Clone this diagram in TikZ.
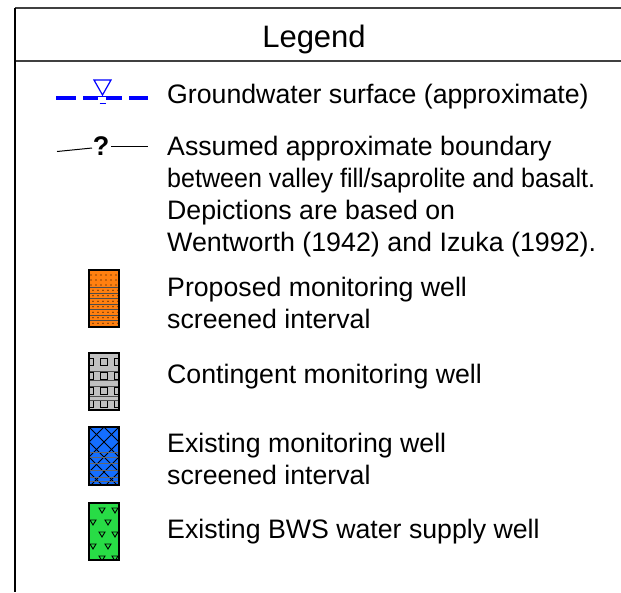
\documentclass[tikz,border=0pt]{standalone}
\usepackage{graphicx}
\usepackage{fontspec}
\setmainfont{Liberation Sans}
\definecolor{wellorange}{RGB}{255,128,16}
\definecolor{wellgray}{RGB}{192,192,192}
\definecolor{wellblue}{RGB}{20,110,255}
\definecolor{wellgreen}{RGB}{40,220,70}
\definecolor{gwblue}{RGB}{0,0,255}
\begin{document}
\begin{tikzpicture}[x=1pt,y=-1pt,
  frame/.style={line width=1.6pt},
  txt/.style={anchor=base west,inner sep=0pt,font=\fontsize{26.7}{32}\selectfont},
  title/.style={anchor=base,inner sep=0pt,font=\fontsize{31}{36}\selectfont},
  wellbox/.style={draw=black,line width=1.4pt},
  pat/.style={line width=0.7pt}]
\useasboundingbox (0,0) rectangle (621,592);
% frame
\coordinate (tl) at (15,8);
\coordinate (tr) at (621,8);
\coordinate (ml) at (15,61);
\coordinate (mr) at (621,61);
\coordinate (bl) at (15,592);
\draw[frame,black!75] (tl) -- (tr);
\draw[frame,black!75] (ml) -- (mr);
\draw[frame] (tl) -- (bl);
\node[title] (legend) at (314,47) {Legend};
% groundwater symbol
\coordinate (g1a) at (56,98); \coordinate (g1b) at (76,98);
\coordinate (g2a) at (83,98); \coordinate (g2b) at (122,98);
\coordinate (g3a) at (129,98); \coordinate (g3b) at (148,98);
\draw[gwblue,line width=4.5pt] (g1a) -- (g1b);
\draw[gwblue,line width=4.5pt] (g2a) -- (g2b);
\draw[gwblue,line width=4.5pt] (g3a) -- (g3b);
\fill[white] (98,96.5) rectangle (106,100);
\draw[gwblue,line width=1.2pt] (94,80) -- (111,80) -- (102.5,95) -- cycle;
\draw[gwblue,line width=1.2pt] (99.5,103.5) -- (105.5,103.5);
\node[txt] (t1) at (167,103) {Groundwater surface (approximate)};
% boundary symbol
\coordinate (b1a) at (57,151.5); \coordinate (b1b) at (92,148);
\coordinate (b2a) at (111,146); \coordinate (b2b) at (148,146);
\draw[line width=1pt] (b1a) -- (b1b);
\draw[line width=1pt] (b2a) -- (b2b);
\node[inner sep=0pt,font=\fontsize{27}{30}\selectfont\bfseries] (q) at (101,146) {?};
\node[txt] (t2a) at (167,155) {Assumed approximate boundary};
\node[txt] (t2b) at (167,187) {\resizebox{428pt}{\height}{between valley fill/saprolite and basalt.}};
\node[txt] (t2c) at (167,219) {Depictions are based on};
\node[txt] (t2d) at (167,251) {\resizebox{429pt}{\height}{Wentworth (1942) and Izuka (1992).}};
% orange well
\fill[wellorange] (89,270) rectangle (119,327);
\begin{scope}
\clip (89,270) rectangle (119,327);
\foreach \yy in {275,280,285} \foreach \xx in {91,96,...,119} \fill (\xx,\yy) circle (0.7pt);
\foreach \yy in {287.5,293,298.5,304,309.5,315,320.5} {
  \draw[pat,black!70] (89,\yy) -- (119,\yy);
  \foreach \xx in {93,98,...,119} \fill (\xx,\yy+2.7) circle (0.6pt);
}
\end{scope}
\draw[wellbox] (89,270) rectangle (119,327);
\node[txt] (t3a) at (167,296) {Proposed monitoring well};
\node[txt] (t3b) at (167,328) {screened interval};
% gray well
\fill[wellgray] (89,353) rectangle (119,410);
\begin{scope}
\clip (89,353) rectangle (119,410);
\foreach \yy in {362,375.5,391,404} \foreach \xx in {90,104,118}
  \draw[pat,line width=1pt] (\xx-3.5,\yy-3.5) rectangle (\xx+3.5,\yy+3.5);
\foreach \yy in {371,380,386,396,400} \draw[pat,black!70] (89,\yy) -- (119,\yy);
\end{scope}
\draw[wellbox] (89,353) rectangle (119,410);
\node[txt] (t4) at (167,383) {Contingent monitoring well};
% blue well
\fill[wellblue] (89,427) rectangle (119,485);
\begin{scope}
\clip (89,427) rectangle (119,485);
\foreach \s in {-30,-15,...,75} {
  \draw[pat,line width=1pt] (89,427+\s) -- (149,487+\s);
  \draw[pat,line width=1pt] (119,427+\s) -- (59,487+\s);
}
\foreach \yy in {452,457,463,470,477,481} \draw[pat,black!60] (89,\yy) -- (119,\yy);
\end{scope}
\draw[wellbox] (89,427) rectangle (119,485);
\node[txt] (t5a) at (167,452) {Existing monitoring well};
\node[txt] (t5b) at (167,484) {screened interval};
% green well
\fill[wellgreen] (89,503) rectangle (119,560);
\begin{scope}
\clip (89,503) rectangle (119,560);
\foreach \xx/\yy in {102/510,115/510,93/522,108/522,102/534,115/534,93/546,108/546,102/558,115/558}
  \draw[pat,line width=0.9pt] (\xx-3,\yy-2) -- (\xx+3,\yy-2) -- (\xx,\yy+3) -- cycle;
\end{scope}
\draw[wellbox] (89,503) rectangle (119,560);
\node[txt] (t6) at (167,538) {Existing BWS water supply well};
\end{tikzpicture}
\end{document}
